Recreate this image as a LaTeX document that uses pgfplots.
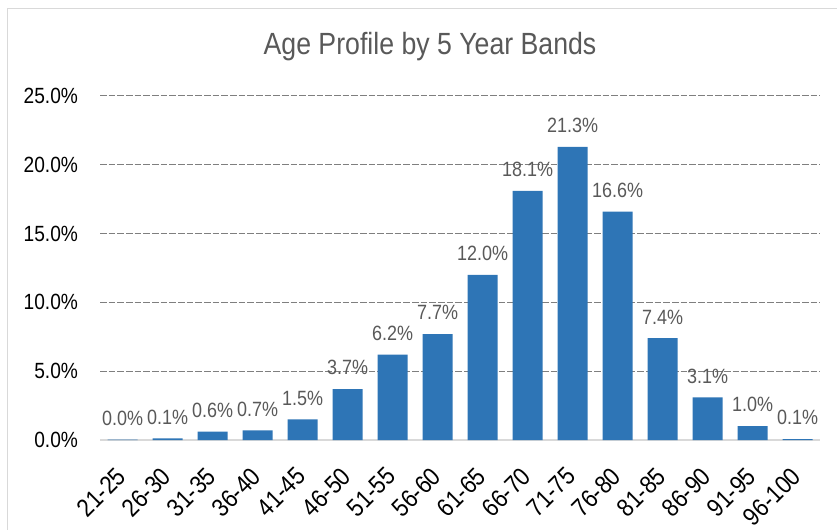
\documentclass[border=0pt]{standalone}
\usepackage{fontspec}
\setmainfont{Liberation Sans}[FakeStretch=0.87]
\usepackage{pgfplots}
\pgfplotsset{compat=1.18}
\definecolor{barblue}{HTML}{2E75B6}
\definecolor{titlegray}{HTML}{595959}
\definecolor{gridgray}{HTML}{7F7F7F}
\definecolor{axisgray}{HTML}{D9D9D9}
\definecolor{framegray}{HTML}{D9D9D9}
\begin{document}
\begin{tikzpicture}
\path[use as bounding box] (0pt,0pt) rectangle (627.75pt,396.75pt);
\draw[framegray,line width=0.75pt] (5.25pt,-5pt) -- (5.25pt,390pt) -- (640pt,390pt);
\node[anchor=base,text=titlegray,font=\fontsize{23}{27}\selectfont] at (322.5pt,355.5pt) {Age Profile by 5 Year Bands};
\begin{axis}[
  at={(75pt,66.75pt)}, anchor=south west,
  scale only axis, width=540pt, height=258pt,
  xmin=-0.5, xmax=15.5, ymin=0, ymax=25,
  ytick={0,5,10,15,20,25},
  xtick={0,...,15},
  xticklabels={21-25,26-30,31-35,36-40,41-45,46-50,51-55,56-60,61-65,66-70,71-75,76-80,81-85,86-90,91-95,96-100},
  axis x line*=bottom, axis y line*=left,
  y axis line style={draw=none},
  x axis line style={axisgray,line width=1.5pt,-},
  major tick length=0pt,
  ymajorgrids, grid style={gridgray,line width=0.75pt,dash pattern=on 5pt off 1.5pt},
  /pgf/number format/assume math mode=true,
  yticklabel={\pgfmathprintnumber[fixed,fixed zerofill,precision=1]{\tick}\%},
  yticklabel style={font=\fontsize{16.5}{18}\selectfont,text=black,xshift=-13pt},
  xticklabel style={font=\fontsize{19}{20}\selectfont,text=black,rotate=45,anchor=north east,xshift=-14.25pt,yshift=-6.25pt},
  ybar, bar width=22.5pt,
  nodes near coords={\pgfmathprintnumber[fixed,fixed zerofill,precision=1]{\pgfplotspointmeta}\%},
  every node near coord/.append style={font=\fontsize{15.5}{17}\selectfont,text=titlegray,yshift=7pt},
  clip=false,
]
\addplot[fill=barblue,draw=none] coordinates {
(0,0.02) (1,0.12) (2,0.6) (3,0.7) (4,1.5) (5,3.7) (6,6.2) (7,7.7) (8,12.0) (9,18.1) (10,21.3) (11,16.6) (12,7.4) (13,3.1) (14,1.0) (15,0.06)};
\end{axis}
\end{tikzpicture}
\end{document}
